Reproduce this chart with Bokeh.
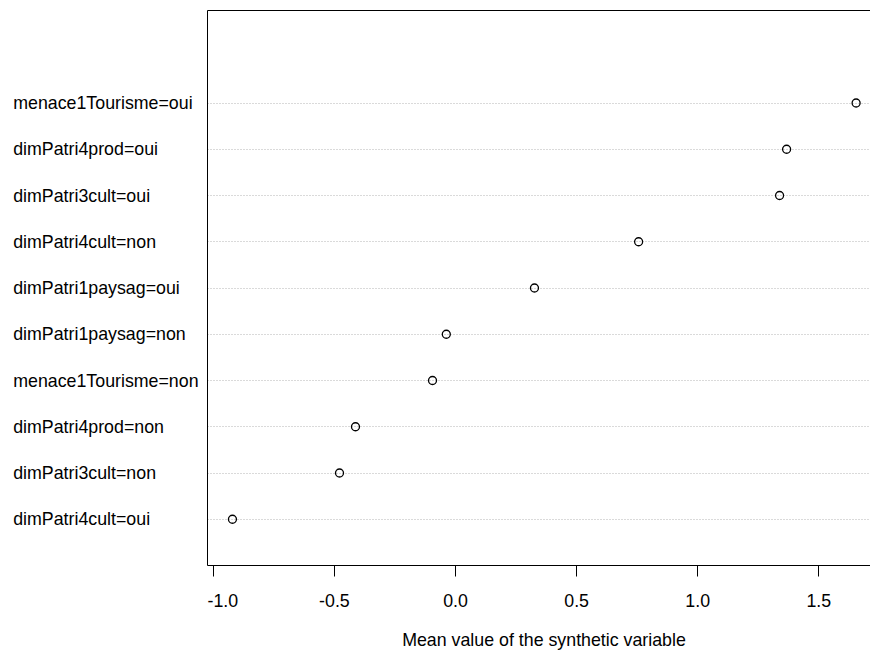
from bokeh.plotting import figure
from bokeh.layouts import row, column
from bokeh.models import (Range1d, FixedTicker, LinearAxis,
                          ColumnDataSource, PrintfTickFormatter)
from bokeh.core.properties import value
from bokeh.embed import file_html
from bokeh.resources import INLINE

# ---- data (bottom to top, as in the dot chart) ----
categories = ["dimPatri4cult=oui", "dimPatri3cult=non", "dimPatri4prod=non",
              "menace1Tourisme=non", "dimPatri1paysag=non", "dimPatri1paysag=oui",
              "dimPatri4cult=non", "dimPatri3cult=oui", "dimPatri4prod=oui",
              "menace1Tourisme=oui"]
values = [-0.921, -0.479, -0.413, -0.095, -0.038, 0.326, 0.756, 1.338, 1.367, 1.654]
positions = list(range(1, len(categories) + 1))
x_ticks = [-1.0, -0.5, 0.0, 0.5, 1.0, 1.5]
x_label = "Mean value of the synthetic variable"

FONT = "Liberation Sans"
FS = "17.8px"

W, H = 870, 655
TITLE_H = 40          # strip below the chart holding the axis title
CH = H - TITLE_H      # height of the chart row
LEFT_W = 207          # width of the label column
TOP, BOTTOM = 10, 50  # borders above / below the plotting frame

y_range = Range1d(0, 12)
src = ColumnDataSource(dict(x=values, y=positions, name=categories))

# ---- label column ----
lab = figure(width=LEFT_W, height=CH, output_backend="svg", toolbar_location=None,
             x_range=Range1d(0, LEFT_W), y_range=y_range,
             x_axis_location=None, y_axis_location=None,
             min_border_left=0, min_border_right=0,
             min_border_top=TOP, min_border_bottom=BOTTOM)
lab.outline_line_color = None
lab.grid.visible = False
lab.text(x=12.7, y="y", text="name", source=src, text_align="left",
         text_baseline="middle", text_font=value(FONT), text_font_size=value(FS),
         text_color="black")

# ---- main dot chart ----
main_w = W - LEFT_W
x_start = -1.024
px_per_unit = 242.2
x_end = x_start + main_w / px_per_unit
p = figure(width=main_w, height=CH, output_backend="svg", toolbar_location=None,
           x_range=Range1d(x_start, x_end), y_range=y_range,
           min_border_left=0, min_border_top=TOP, min_border_right=0,
           min_border_bottom=BOTTOM)
p.outline_line_color = None

xa = p.xaxis[0]
xa.ticker = FixedTicker(ticks=x_ticks, minor_ticks=[])
xa.formatter = PrintfTickFormatter(format="%.1f")
xa.major_tick_out = 11
xa.major_tick_in = 0
xa.minor_tick_out = 0
xa.minor_tick_in = 0
xa.major_tick_line_color = "black"
xa.axis_line_color = "black"
xa.major_label_text_font = FONT
xa.major_label_text_font_size = FS
xa.major_label_text_color = "black"
xa.major_label_standoff = 17

ya = p.yaxis[0]
ya.ticker = FixedTicker(ticks=[], minor_ticks=[])
ya.major_tick_line_color = None
ya.minor_tick_line_color = None
ya.major_label_text_font_size = "0px"
ya.axis_line_color = "black"

top = LinearAxis(ticker=FixedTicker(ticks=[], minor_ticks=[]),
                 major_tick_line_color=None, minor_tick_line_color=None,
                 major_label_text_font_size="0px", axis_line_color="black")
p.add_layout(top, "above")

p.xgrid.visible = False
p.ygrid[0].ticker = FixedTicker(ticks=positions, minor_ticks=[])
p.ygrid[0].grid_line_color = "#b4b4b4"
p.ygrid[0].grid_line_dash = "1 2"
p.ygrid[0].grid_line_width = 1

p.scatter(x="x", y="y", source=src, size=8, fill_color=None,
          line_color="black", line_width=1.3)

# ---- strip with the x axis title, centred on the full R plotting region ----
ttl = figure(width=W, height=TITLE_H, output_backend="svg", toolbar_location=None,
             x_range=Range1d(0, W), y_range=Range1d(0, TITLE_H),
             x_axis_location=None, y_axis_location=None,
             min_border=0)
ttl.outline_line_color = None
ttl.grid.visible = False
ttl.text(x=[(207 + 880) / 2], y=[16], text=[x_label], text_align="center",
         text_baseline="alphabetic", text_font=value(FONT),
         text_font_size=value(FS), text_color="black")

layout = column(row(lab, p, spacing=0), ttl, spacing=0)
open("out.html", "w").write(file_html(layout, INLINE))
